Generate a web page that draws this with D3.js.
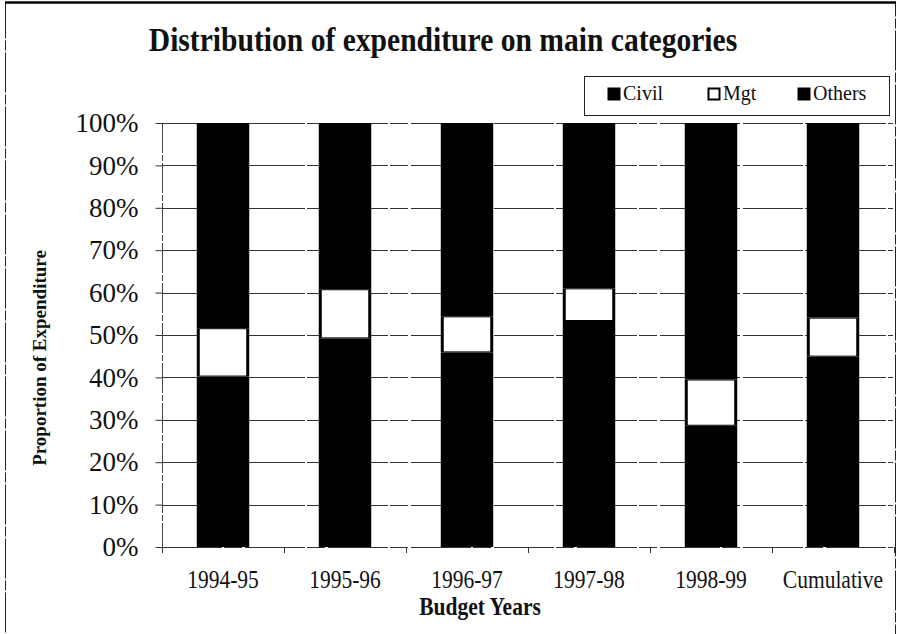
<!DOCTYPE html>
<html>
<head>
<meta charset="utf-8">
<script src="https://cdn.jsdelivr.net/npm/d3@7"></script>
<style>
  html, body { margin: 0; padding: 0; background: #fff; }
  svg { display: block; }
</style>
</head>
<body>
<svg id="chart" width="898" height="634"></svg>
<script>
const categories = ["1994-95", "1995-96", "1996-97", "1997-98", "1998-99", "Cumulative"];
const civil  = [40.2, 49.2, 45.9, 53.3, 28.6, 44.9];
const mgt    = [11.4, 11.6, 8.5, 7.7, 10.9, 9.2];
const others = [48.4, 39.2, 45.6, 39.0, 60.5, 45.9];
const seriesNames = ["Civil", "Mgt", "Others"];
const yTicks = [0, 10, 20, 30, 40, 50, 60, 70, 80, 90, 100];

(function () {
const FONT = "'Liberation Serif', 'Times New Roman', 'DejaVu Serif', serif";
const svg = d3.select("#chart");
const pLeft = 162, pRight = 894, pTop = 123, pBottom = 547;

// outer frame
svg.append("rect").attr("x", 5.5).attr("y", 2.5).attr("width", 890).attr("height", 640)
  .attr("fill", "none").attr("stroke", "#222").attr("stroke-width", 1).attr("stroke-dasharray", "40 2 10 2");
svg.append("line").attr("x1", 5).attr("x2", 896).attr("y1", 2.5).attr("y2", 2.5)
  .attr("stroke", "#000").attr("stroke-width", 2.5);

const table = categories.map((c, i) => ({ cat: c, Civil: civil[i], Mgt: mgt[i], Others: others[i] }));
const stacked = d3.stack().keys(seriesNames)(table);

const x = d3.scaleBand().domain(categories).range([pLeft, pRight]).paddingInner(0.57).paddingOuter(0.285);
const y = d3.scaleLinear().domain([0, 100]).range([pBottom, pTop]);

// gridlines
svg.append("g").selectAll("line").data(yTicks).join("line")
  .attr("x1", pLeft).attr("x2", pRight - 1)
  .attr("y1", d => Math.round(y(d)) + 0.5).attr("y2", d => Math.round(y(d)) + 0.5)
  .attr("stroke", "#333").attr("stroke-width", 1.2).attr("stroke-dasharray", "60 2 18 3");

// y axis
const yAxis = d3.axisLeft(y).tickValues(yTicks).tickSize(7).tickPadding(17).tickFormat(d => d + "%");
const gy = svg.append("g").attr("transform", `translate(${pLeft + 0.5},0)`).call(yAxis);
gy.attr("font-family", null);
gy.select(".domain").attr("stroke", "#444").attr("stroke-dasharray", "30 2 6 2").attr("d", `M0,${pTop}V${pBottom + 6}`);
gy.selectAll(".tick line").attr("stroke", "#333");
gy.selectAll(".tick text").style("font-family", FONT).style("font-size", "27px").attr("fill", "#111");

// x axis ticks at band boundaries
const bounds = categories.map(c => x(c) - x.step() * x.paddingInner() / 2);
bounds.push(pRight);
svg.append("g").selectAll("line").data(bounds).join("line")
  .attr("x1", d => Math.round(d) + 0.5).attr("x2", d => Math.round(d) + 0.5)
  .attr("y1", pBottom).attr("y2", pBottom + 6).attr("stroke", "#333");

// bars
const colors = { Civil: "#000", Mgt: "#fff", Others: "#000" };
stacked.forEach(s => {
  const g = svg.append("g");
  if (s.key === "Mgt") {
    g.selectAll("rect.bg").data(s).join("rect").attr("class", "bg")
      .attr("x", d => x(d.data.cat)).attr("width", x.bandwidth())
      .attr("y", d => y(d[1])).attr("height", d => y(d[0]) - y(d[1]))
      .attr("fill", "#000");
    g.selectAll("rect.fg").data(s).join("rect").attr("class", "fg")
      .attr("x", d => x(d.data.cat) + 3).attr("width", x.bandwidth() - 6)
      .attr("y", d => y(d[1]) + 1).attr("height", d => y(d[0]) - y(d[1]) - 2)
      .attr("fill", "#fff");
  } else {
    g.selectAll("rect").data(s).join("rect")
      .attr("x", d => x(d.data.cat)).attr("width", x.bandwidth())
      .attr("y", d => y(d[1])).attr("height", d => y(d[0]) - y(d[1]))
      .attr("fill", colors[s.key]);
  }
});

// x labels
svg.append("g").selectAll("text").data(categories).join("text")
  .attr("transform", d => `translate(${x(d) + x.bandwidth() / 2},588) scale(0.86,1)`)
  .attr("text-anchor", "middle").style("font-family", FONT).style("font-size", "25px").attr("fill", "#111")
  .text(d => d);

// title
svg.append("text").attr("transform", "translate(443,51) scale(0.87,1)")
  .attr("text-anchor", "middle").style("font-family", FONT).style("font-size", "34px")
  .attr("font-weight", "bold").attr("fill", "#111")
  .text("Distribution of expenditure on main categories");

// x axis title
svg.append("text").attr("transform", "translate(480,615) scale(0.86,1)")
  .attr("text-anchor", "middle").style("font-family", FONT).style("font-size", "25px")
  .attr("font-weight", "bold").attr("fill", "#111")
  .text("Budget Years");

// y axis title
svg.append("text").attr("transform", "translate(46,358) rotate(-90)")
  .attr("text-anchor", "middle").style("font-family", FONT).style("font-size", "19px")
  .attr("font-weight", "bold").attr("fill", "#111")
  .text("Proportion of Expenditure");

// legend
svg.append("rect").attr("x", 584.5).attr("y", 76.5).attr("width", 305).attr("height", 39)
  .attr("fill", "#fff").attr("stroke", "#222").attr("stroke-width", 1);
const legX = [608, 708, 798];
const lg = svg.append("g").selectAll("g").data(seriesNames).join("g")
  .attr("transform", (d, i) => `translate(${legX[i]},88)`);
lg.append("rect")
  .attr("fill", d => colors[d]).attr("stroke", "#000").attr("stroke-width", d => d === "Mgt" ? 2 : 1)
  .attr("x", d => d === "Mgt" ? 0.5 : 0).attr("y", d => d === "Mgt" ? 0.5 : 0)
  .attr("width", d => d === "Mgt" ? 11 : 12).attr("height", d => d === "Mgt" ? 11 : 12);
lg.append("text").attr("x", 15).attr("y", 12).style("font-family", FONT).style("font-size", "20px")
  .attr("fill", "#111").text(d => d);
})();
</script>
</body>
</html>
